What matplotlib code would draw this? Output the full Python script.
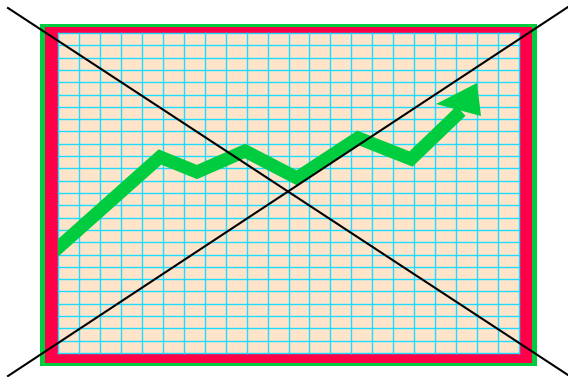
import matplotlib
matplotlib.use("Agg")
import matplotlib.pyplot as plt
from matplotlib.patches import Rectangle, Polygon
import numpy as np

W, H = 568, 377

# Frame rectangles (x0, y0, x1, y1) in pixel units
outer_frame = [40, 24, 537, 366]
red_frame = [45, 27, 532, 363]
panel = [58, 33, 519, 353]
n_cols = 22
n_rows = 26

# Trend line (pixel space, y downwards)
trend_x = [50, 160, 197, 245, 297, 358, 411, 461]
trend_y = [255, 157, 172, 151, 178, 138, 159, 111]
head_x = [436, 477, 481]
head_y = [104, 83, 116]

# Crossing diagonals
diag1_x = [8, 568]
diag1_y = [8, 375]
diag2_x = [8, 568]
diag2_y = [376, 7]

GREEN = "#00CC3F"
RED = "#FF0048"
PEACH = "#FFE4CA"
CYAN = "#1EDCFF"

fig = plt.figure(figsize=(W / 100, H / 100), dpi=100)
ax = fig.add_axes([0, 0, 1, 1])
ax.set_xlim(0, W)
ax.set_ylim(H, 0)
ax.axis("off")

def rect(r, color, z):
    p = Rectangle((r[0], r[1]), r[2] - r[0], r[3] - r[1], facecolor=color,
                  edgecolor="none", zorder=z)
    ax.add_patch(p)
    return p

rect(outer_frame, GREEN, 1)
rect(red_frame, RED, 2)
clip = rect(panel, PEACH, 3)

for x in np.linspace(panel[0], panel[2], n_cols + 1):
    ax.plot([x, x], [panel[1], panel[3]], color=CYAN, lw=1.0, zorder=4)
for y in np.linspace(panel[1], panel[3], n_rows + 1):
    ax.plot([panel[0], panel[2]], [y, y], color=CYAN, lw=1.0, zorder=4)

ln, = ax.plot(trend_x, trend_y, color=GREEN, lw=9.5, solid_joinstyle="miter",
              solid_capstyle="butt", zorder=5)
ln.set_clip_path(clip)
ax.add_patch(Polygon(list(zip(head_x, head_y)), closed=True, facecolor=GREEN,
                     edgecolor="none", zorder=5))

ax.plot(diag1_x, diag1_y, color="black", lw=1.5, zorder=6)
ax.plot(diag2_x, diag2_y, color="black", lw=1.5, zorder=6)

fig.savefig("out.png", dpi=100)
